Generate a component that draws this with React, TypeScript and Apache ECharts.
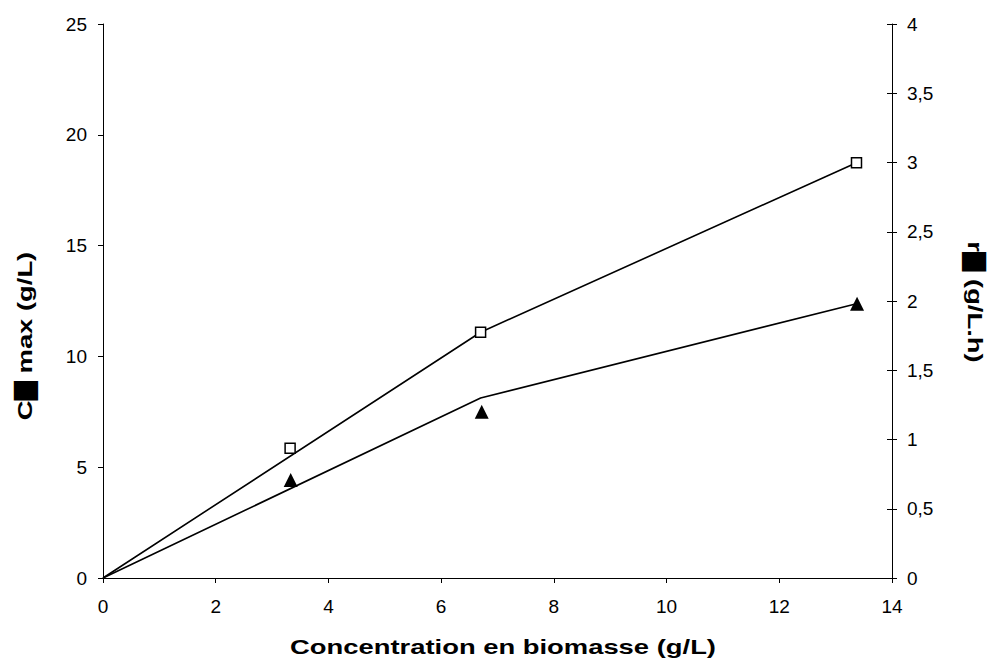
import React, { useEffect, useRef } from "react";
import * as echarts from "echarts";

const xTicks = { min: 0, max: 14, interval: 2 };
const leftAxis = { min: 0, max: 25, interval: 5 };
const rightAxis = { min: 0, max: 4, interval: 0.5 };

const squarePoints: [number, number][] = [
  [3.32, 5.85],
  [6.7, 11.09],
  [13.37, 18.74],
];
const squareLine: [number, number][] = [
  [0, 0],
  [6.7, 11.09],
  [13.37, 18.74],
];
const trianglePoints: [number, number][] = [
  [3.33, 0.707],
  [6.72, 1.2],
  [13.38, 1.98],
];
const triangleLine: [number, number][] = [
  [0, 0],
  [6.7, 1.3],
  [13.37, 1.98],
];

const xTitle = "Concentration en biomasse (g/L)";
const leftTitle = "C█ max (g/L)";
const rightTitle = "r█ (g/L.h)";

const FONT = '"Liberation Sans", Arial, Helvetica, sans-serif';
const TITLE_SCALE = 1.37;

export default function App() {
  const ref = useRef<HTMLDivElement>(null);
  useEffect(() => {
    document.body.style.margin = "0";
    if (!ref.current) return;
    const chart = echarts.init(ref.current, null, { renderer: "svg" });
    const axisLine = { show: true, lineStyle: { color: "#000", width: 1 } };
    const labelStyle = { color: "#000", fontSize: 19, fontFamily: FONT };
    const titleStyle = (text: string) => ({
      text,
      font: `bold 20px ${FONT}`,
      fill: "#000",
      textAlign: "center",
      textVerticalAlign: "middle",
    });
    chart.setOption({
      animation: false,
      backgroundColor: "#fff",
      grid: { left: 103, right: 96, top: 24, bottom: 90 },
      xAxis: {
        type: "value",
        ...xTicks,
        axisLine,
        axisTick: { show: true, length: 5, lineStyle: { color: "#000" } },
        axisLabel: { ...labelStyle, margin: 19 },
        splitLine: { show: false },
      },
      yAxis: [
        {
          type: "value",
          position: "left",
          ...leftAxis,
          axisLine,
          axisTick: { show: true, length: 5, lineStyle: { color: "#000" } },
          axisLabel: { ...labelStyle, margin: 16 },
          splitLine: { show: false },
        },
        {
          type: "value",
          position: "right",
          ...rightAxis,
          axisLine,
          axisTick: { show: true, length: 5, lineStyle: { color: "#000" } },
          axisLabel: {
            ...labelStyle,
            margin: 15,
            formatter: (v: number) => String(v).replace(".", ","),
          },
          splitLine: { show: false },
        },
        {
          type: "value",
          position: "right",
          ...rightAxis,
          axisLine: { show: false },
          axisTick: { show: true, inside: true, length: 5, lineStyle: { color: "#000" } },
          axisLabel: { show: false },
          splitLine: { show: false },
        },
      ],
      graphic: [
        {
          type: "text",
          x: 503,
          y: 647,
          scaleX: TITLE_SCALE,
          style: titleStyle(xTitle),
        },
        {
          type: "text",
          x: 25,
          y: 336,
          rotation: Math.PI / 2,
          scaleX: TITLE_SCALE,
          style: titleStyle(leftTitle),
        },
        {
          type: "text",
          x: 975,
          y: 302,
          rotation: -Math.PI / 2,
          scaleX: TITLE_SCALE,
          style: titleStyle(rightTitle),
        },
      ],
      series: [
        {
          type: "line",
          yAxisIndex: 0,
          data: squareLine,
          showSymbol: false,
          lineStyle: { color: "#000", width: 1.6 },
          z: 2,
        },
        {
          type: "line",
          yAxisIndex: 1,
          data: triangleLine,
          showSymbol: false,
          lineStyle: { color: "#000", width: 1.6 },
          z: 2,
        },
        {
          type: "scatter",
          yAxisIndex: 0,
          data: squarePoints,
          symbol: "rect",
          symbolSize: 10,
          itemStyle: { color: "#fff", borderColor: "#000", borderWidth: 1.5, opacity: 1 },
          z: 5,
        },
        {
          type: "scatter",
          yAxisIndex: 1,
          data: trianglePoints,
          symbol: "triangle",
          symbolSize: 14,
          itemStyle: { color: "#000", opacity: 1 },
          z: 5,
        },
      ],
    });
    return () => chart.dispose();
  }, []);
  return <div ref={ref} style={{ width: 988, height: 668 }} />;
}
